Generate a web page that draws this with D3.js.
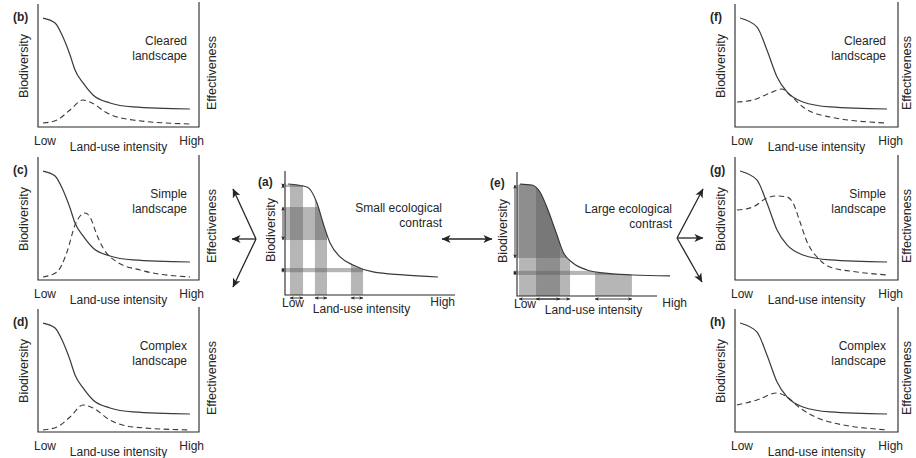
<!DOCTYPE html>
<html>
<head>
<meta charset="utf-8">
<script src="https://cdn.jsdelivr.net/npm/d3@7"></script>
<style>
  body { margin: 0; background: #fff; }
  svg { display: block; font-family: "Liberation Sans", Arial, Helvetica, sans-serif; }
</style>
</head>
<body>
<svg id="fig" width="916" height="458"></svg>
<script>
// ---- values (land-use intensity 0..10, biodiversity / effectiveness 0..1) ----
const intensityEnds = ["Low", "High"];
const landscapeNames = ["Cleared", "Simple", "Complex"];
const westLetters = ["b", "c", "d"];
const eastLetters = ["f", "g", "h"];

// biodiversity along the gradient, side panels
const solidWest = [[0.31,0.908],[1.06,0.867],[1.55,0.75],[1.99,0.60],[2.30,0.475],[2.80,0.367],[3.42,0.267],[4.47,0.20],[5.90,0.167],[9.44,0.15]];
const solidEast = [[0.31,0.908],[1.35,0.833],[1.96,0.642],[2.58,0.417],[3.19,0.292],[4.17,0.208],[5.83,0.167],[9.33,0.15]];

// effectiveness of management, one series per landscape
const effB = [[0.31,0.033],[1.18,0.058],[1.99,0.142],[2.80,0.225],[3.35,0.20],[4.29,0.117],[5.90,0.058],[9.44,0.025]];
const effC = [[0.31,0.025],[1.18,0.067],[1.80,0.233],[2.30,0.458],[2.92,0.558],[3.23,0.525],[3.66,0.375],[4.04,0.267],[4.91,0.15],[6.34,0.083],[9.44,0.025]];
const effD = [[0.31,0.017],[1.18,0.042],[1.99,0.125],[2.80,0.225],[3.42,0.20],[4.47,0.10],[5.90,0.042],[9.44,0.017]];
const effF = [[0.12,0.208],[1.10,0.225],[2.15,0.283],[2.88,0.317],[3.37,0.267],[4.17,0.167],[5.83,0.083],[9.33,0.033]];
const effG = [[0.12,0.583],[1.10,0.608],[1.96,0.683],[2.58,0.70],[3.19,0.692],[3.56,0.642],[3.99,0.483],[4.42,0.317],[5.03,0.192],[5.83,0.108],[7.48,0.067],[9.33,0.042]];
const effH = [[0.12,0.225],[1.35,0.267],[2.58,0.325],[3.19,0.292],[3.99,0.20],[5.40,0.10],[9.33,0.017]];

// central panels: biodiversity curve
const solidSmall = [[0.18,0.925],[1.29,0.90],[1.88,0.767],[2.24,0.60],[2.65,0.433],[3.24,0.317],[4.0,0.25],[5.18,0.192],[6.94,0.167],[9.0,0.15]];
const solidLarge = [[0.18,0.933],[0.88,0.925],[1.35,0.867],[1.82,0.717],[2.35,0.508],[2.71,0.367],[3.29,0.275],[4.12,0.217],[5.06,0.192],[6.82,0.175],[9.0,0.167]];

// shifts in intensity [from, to] and resulting biodiversity [high, low] (null = not marked)
const spansSmall = [[0.29,1.06, 0.92,0.90],[1.76,2.47, 0.733,0.458],[3.88,4.59, 0.225,0.19]];
const spansLarge = [[0.12,3.12, 0.925,0.317],[1.12,2.53, null,null],[4.59,6.76, 0.21,0.175]];

const contrastSmall = ["Small ecological", "contrast"];
const contrastLarge = ["Large ecological", "contrast"];

// ---- drawing ----
const svg = d3.select("#fig");
const ink = "#262626";
const lineInk = "#3a3a3a";
const fs = 12;
const defs = svg.append("defs");

function addMarker(id, w, h) {
  defs.append("marker")
    .attr("id", id).attr("viewBox", "0 0 10 10")
    .attr("refX", 9.5).attr("refY", 5)
    .attr("markerWidth", w).attr("markerHeight", h)
    .attr("markerUnits", "userSpaceOnUse")
    .attr("orient", "auto-start-reverse")
    .append("path").attr("d", "M0,0.5 L10,5 L0,9.5 L2.6,5 Z").attr("fill", ink);
}
addMarker("tip", 5, 4);
addMarker("head", 12, 9);

const line = (x, y) => d3.line().x(d => x(d[0])).y(d => y(d[1])).curve(d3.curveMonotoneX);

function text(g, str, x, y, opts = {}) {
  const t = g.append("text").attr("x", x).attr("y", y).text(str)
    .attr("font-size", opts.size || fs).attr("fill", ink)
    .attr("text-anchor", opts.anchor || "start");
  if (opts.bold) t.attr("font-weight", "bold");
  if (opts.rotate) t.attr("transform", `rotate(-90,${x},${y})`);
  return t;
}

// side panels: biodiversity (solid) and effectiveness (dashed)
const rowTop = [0, 153, 305];
const columns = [
  { left: 38, right: 199, effX: 216, letters: westLetters, solid: solidWest, eff: [effB, effC, effD] },
  { left: 735, right: 898, effX: 911, letters: eastLetters, solid: solidEast, eff: [effF, effG, effH] }
];

columns.forEach(col => {
  rowTop.forEach((t, r) => {
    const g = svg.append("g");
    const bottom = t + 127;
    const x = d3.scaleLinear([0, 10], [col.left, col.right]);
    const y = d3.scaleLinear([0, 1], [bottom, bottom - 120]);

    g.append("path")
      .attr("d", `M${col.left},${t + 4}V${bottom}H${col.right}V${t + 2}`)
      .attr("fill", "none").attr("stroke", ink).attr("stroke-width", 1.1);

    g.append("path").datum(col.eff[r]).attr("d", line(x, y))
      .attr("fill", "none").attr("stroke", lineInk).attr("stroke-width", 1.1)
      .attr("stroke-dasharray", "5.5,3.5");
    g.append("path").datum(col.solid).attr("d", line(x, y))
      .attr("fill", "none").attr("stroke", lineInk).attr("stroke-width", 1.2);

    text(g, `(${col.letters[r]})`, col.left - 25, t + 21, { bold: true });
    text(g, "Biodiversity", col.left - 10, t + 66, { rotate: true, anchor: "middle", size: 12.5 });
    text(g, "Effectiveness", col.effX, t + 73, { rotate: true, anchor: "middle", size: 12.5 });
    text(g, landscapeNames[r], col.right - 12, t + 45, { anchor: "end" });
    text(g, "landscape", col.right - 12, t + 60, { anchor: "end" });
    text(g, intensityEnds[0], col.left - 4, t + 145);
    text(g, intensityEnds[1], col.right + 5, t + 145, { anchor: "end" });
    text(g, "Land-use intensity", (col.left + col.right) / 2, t + 151, { anchor: "middle" });
  });
});

// central panels: contrast of management effect along the curve
const centres = [
  { key: "a", left: 285, bottom: 295, right: 455, solid: solidSmall, spans: spansSmall, words: contrastSmall, wordsEnd: 442 },
  { key: "e", left: 517, bottom: 296, right: 657, solid: solidLarge, spans: spansLarge, words: contrastLarge, wordsEnd: 672 }
];

centres.forEach(c => {
  const g = svg.append("g");
  const x = d3.scaleLinear([0, 10], [c.left, c.left + 170]);
  const y = d3.scaleLinear([0, 1], [c.bottom, c.bottom - 120]);

  // everything shaded stays beneath the biodiversity curve
  const clipId = "under-" + c.key;
  const under = [[0, c.solid[0][1]], ...c.solid];
  defs.append("clipPath").attr("id", clipId).append("path")
    .attr("d", d3.area().x(d => x(d[0])).y0(y(0)).y1(d => y(d[1])).curve(d3.curveMonotoneX)(under));

  const shade = g.append("g").attr("clip-path", `url(#${clipId})`);
  c.spans.forEach(s => {
    shade.append("rect")
      .attr("x", x(s[0])).attr("width", x(s[1]) - x(s[0]))
      .attr("y", y(1.1)).attr("height", y(0) - y(1.1))
      .attr("fill", "#5e5e5e").attr("fill-opacity", 0.45);
    if (s[2] !== null) {
      shade.append("rect")
        .attr("x", x(0)).attr("width", x(s[1]) - x(0))
        .attr("y", y(s[2])).attr("height", y(s[3]) - y(s[2]))
        .attr("fill", "#5e5e5e").attr("fill-opacity", 0.45);
    }
  });

  g.append("path")
    .attr("d", `M${c.left},${c.bottom - 124}V${c.bottom}H${c.right}`)
    .attr("fill", "none").attr("stroke", ink).attr("stroke-width", 1.1);

  g.append("path").datum(c.solid).attr("d", line(x, y))
    .attr("fill", "none").attr("stroke", lineInk).attr("stroke-width", 1.2);

  // double-headed range arrows on both axes
  c.spans.forEach(s => {
    g.append("line")
      .attr("x1", x(s[0])).attr("x2", x(s[1]))
      .attr("y1", c.bottom + 3).attr("y2", c.bottom + 3)
      .attr("stroke", ink).attr("stroke-width", 0.9)
      .attr("marker-start", "url(#tip)").attr("marker-end", "url(#tip)");
    if (s[2] !== null) {
      g.append("line")
        .attr("x1", c.left - 2).attr("x2", c.left - 2)
        .attr("y1", y(s[2])).attr("y2", y(s[3]))
        .attr("stroke", ink).attr("stroke-width", 0.9)
        .attr("marker-start", "url(#tip)").attr("marker-end", "url(#tip)");
    }
  });

  text(g, `(${c.key})`, c.left - 27, c.bottom - 109, { bold: true });
  text(g, "Biodiversity", c.left - 10, c.bottom - 65, { rotate: true, anchor: "middle", size: 12.5 });
  text(g, intensityEnds[0], c.left - 3, c.bottom + 12);
  text(g, intensityEnds[1], c.left + 170, c.bottom + 11, { anchor: "end" });
  text(g, "Land-use intensity", x(4.5), c.bottom + 18, { anchor: "middle" });
  text(g, c.words[0], c.wordsEnd, c.bottom - 83, { anchor: "end" });
  text(g, c.words[1], c.wordsEnd, c.bottom - 68, { anchor: "end" });
});

// connecting arrows between panels
const arrows = svg.append("g").attr("stroke", ink).attr("stroke-width", 1.3);
function arrow(x1, y1, x2, y2, both) {
  const l = arrows.append("line").attr("x1", x1).attr("y1", y1).attr("x2", x2).attr("y2", y2)
    .attr("marker-end", "url(#head)");
  if (both) l.attr("marker-start", "url(#head)");
}
// fork from (a) towards (b), (c), (d)
const forkW = { x: centres[0].left - 29, y: 239 };
arrow(forkW.x, forkW.y, forkW.x - 23, forkW.y - 50);
arrow(forkW.x, forkW.y, forkW.x - 24, forkW.y);
arrow(forkW.x, forkW.y, forkW.x - 23, forkW.y + 48);
// (a) <-> (e)
arrow(442, 239, 492, 239, true);
// fork from (e) towards (f), (g), (h)
const forkE = { x: 677, y: 238 };
arrow(forkE.x, forkE.y, forkE.x + 26, forkE.y - 49);
arrow(forkE.x, forkE.y, forkE.x + 26, forkE.y);
arrow(forkE.x, forkE.y, forkE.x + 25, forkE.y + 44);
</script>
</body>
</html>
